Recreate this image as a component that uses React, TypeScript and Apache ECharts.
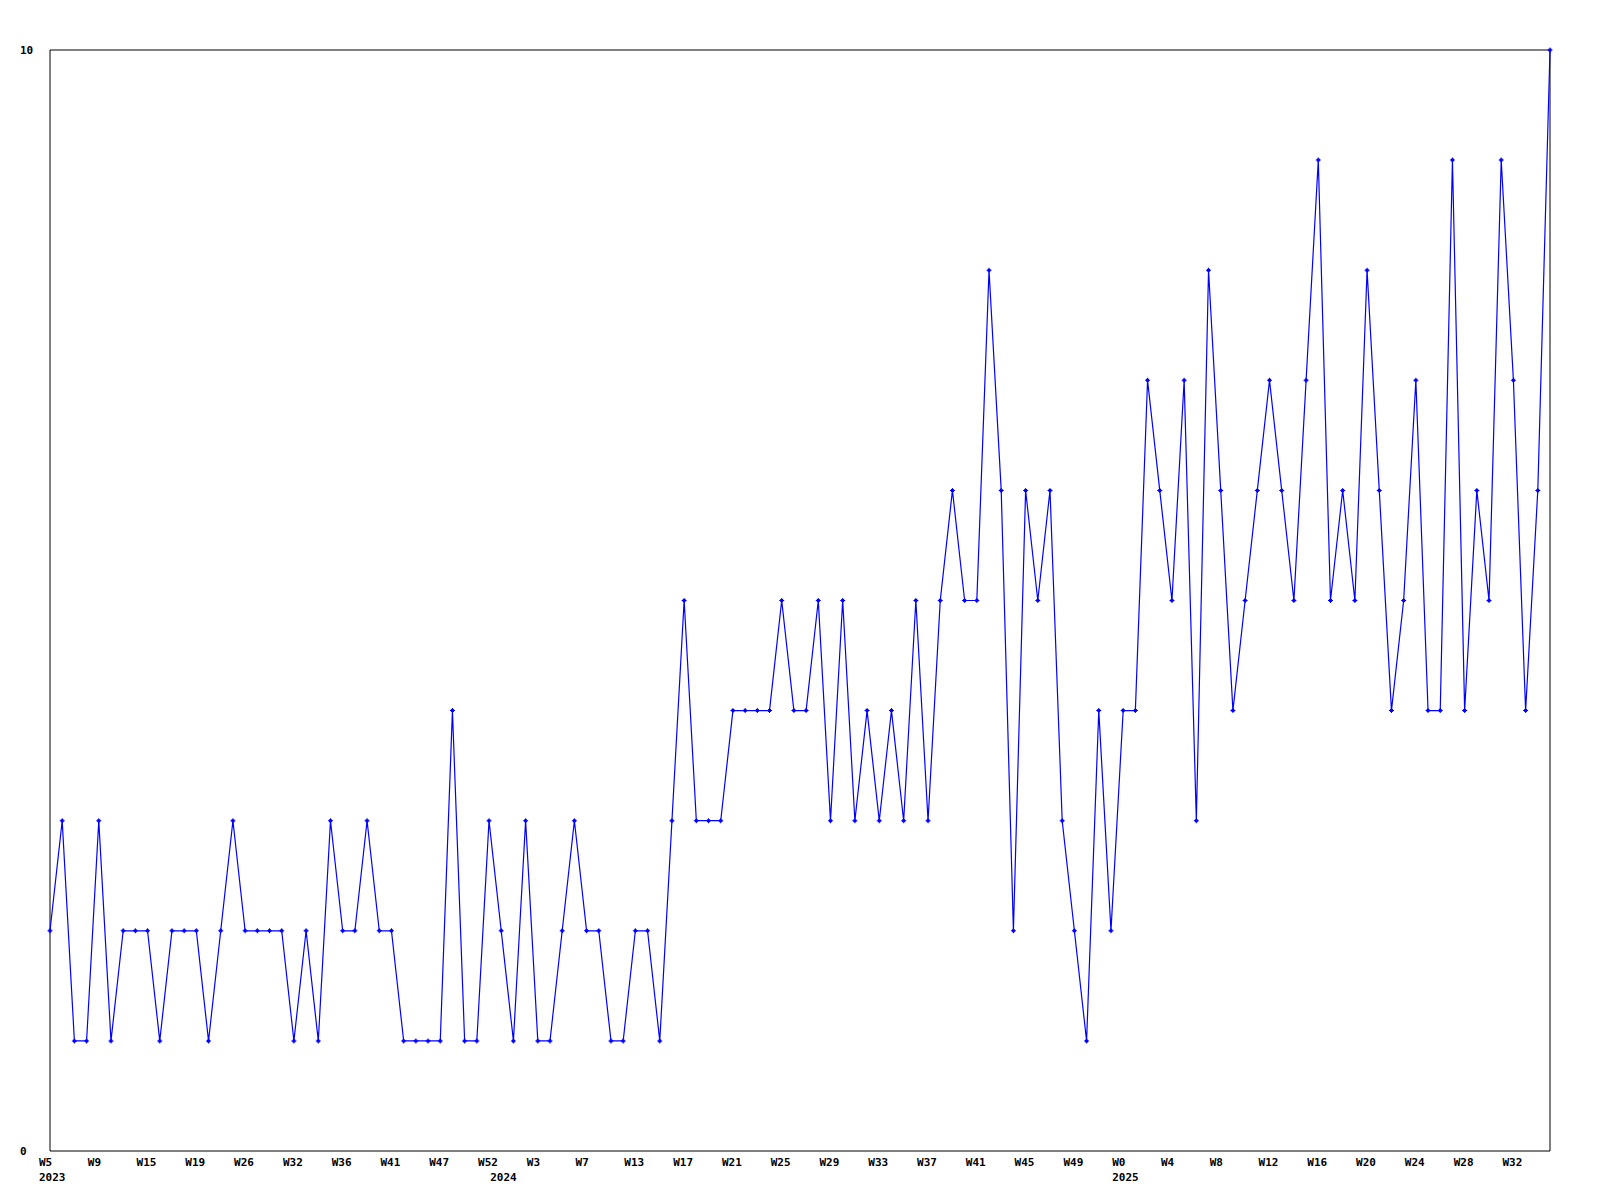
import React, { useEffect, useRef } from 'react';
import * as echarts from 'echarts';

const weeks: string[] = [
  'W5', 'W6', 'W7', 'W8', 'W9', 'W10', 'W12', 'W14', 'W15', 'W16', 'W17', 'W18',
  'W19', 'W21', 'W23', 'W25', 'W26', 'W28', 'W30', 'W31', 'W32', 'W33', 'W34', 'W35',
  'W36', 'W37', 'W39', 'W40', 'W41', 'W43', 'W44', 'W46', 'W47', 'W48', 'W50', 'W51',
  'W52',
  'W0', 'W1', 'W2', 'W3', 'W4', 'W5', 'W6', 'W7', 'W8', 'W10', 'W11', 'W13', 'W14',
  'W15', 'W16', 'W17', 'W18', 'W19', 'W20', 'W21', 'W22', 'W23', 'W24', 'W25', 'W26',
  'W27', 'W28', 'W29', 'W30', 'W31', 'W32', 'W33', 'W34', 'W35', 'W36', 'W37', 'W38',
  'W39', 'W40', 'W41', 'W42', 'W43', 'W44', 'W45', 'W46', 'W47', 'W48', 'W49', 'W50',
  'W51', 'W52',
  'W0', 'W1', 'W2', 'W3', 'W4', 'W5', 'W6', 'W7', 'W8', 'W9', 'W10', 'W11', 'W12',
  'W13', 'W14', 'W15', 'W16', 'W17', 'W18', 'W19', 'W20', 'W21', 'W22', 'W23', 'W24',
  'W25', 'W26', 'W27', 'W28', 'W29', 'W30', 'W31', 'W32', 'W33', 'W34', 'W35',
];

const values: number[] = [
  2, 3, 1, 1, 3, 1, 2, 2, 2, 1,
  2, 2, 2, 1, 2, 3, 2, 2, 2, 2,
  1, 2, 1, 3, 2, 2, 3, 2, 2, 1,
  1, 1, 1, 4, 1, 1, 3, 2, 1, 3,
  1, 1, 2, 3, 2, 2, 1, 1, 2, 2,
  1, 3, 5, 3, 3, 3, 4, 4, 4, 4,
  5, 4, 4, 5, 3, 5, 3, 4, 3, 4,
  3, 5, 3, 5, 6, 5, 5, 8, 6, 2,
  6, 5, 6, 3, 2, 1, 4, 2, 4, 4,
  7, 6, 5, 7, 3, 8, 6, 4, 5, 6,
  7, 6, 5, 7, 9, 5, 6, 5, 8, 6,
  4, 5, 7, 4, 4, 9, 4, 6, 5, 9,
  7, 4, 6, 10,
];

const yearIndex: number[] = [0, 37, 88];
const yearLabels: string[] = ['2023', '2024', '2025'];

const FONT = 'DejaVu Sans Mono';

export default function App() {
  const ref = useRef<HTMLDivElement>(null);

  useEffect(() => {
    if (!ref.current) return;
    const chart = echarts.init(ref.current, undefined, { renderer: 'svg' });
    const labelStyle = {
      fontFamily: FONT,
      fontWeight: 'bold' as const,
      fontSize: 11,
      color: '#000',
    };
    chart.setOption({
      animation: false,
      backgroundColor: '#fff',
      grid: {
        left: 50,
        right: 50,
        top: 50,
        bottom: 49,
        show: true,
        borderColor: '#000',
        borderWidth: 1,
        backgroundColor: 'transparent',
      },
      xAxis: {
        type: 'category',
        data: weeks,
        boundaryGap: false,
        axisLine: { show: false },
        axisTick: { show: false },
        splitLine: { show: false },
        axisLabel: {
          interval: (i: number) => i % 4 === 0 || yearIndex.includes(i),
          margin: 4,
          formatter: (val: string, i: number) => {
            const y = yearIndex.indexOf(i);
            const top = i % 4 === 0 ? val : ' ';
            return y >= 0 ? `{a|${top}}\n{a|${yearLabels[y]}}` : `{a|${top}}`;
          },
          rich: {
            a: { ...labelStyle, width: 22, align: 'left', lineHeight: 15 },
          },
        },
      },
      yAxis: {
        type: 'value',
        min: 0,
        max: 10,
        interval: 10,
        axisLine: { show: false },
        axisTick: { show: false },
        splitLine: { show: false },
        axisLabel: { ...labelStyle, align: 'left', margin: 30 },
      },
      series: [
        {
          type: 'line',
          data: values,
          symbol: 'path://M2 0H3V1H4V2H5V3H4V4H3V5H2V4H1V3H0V2H1V1H2Z',
          symbolSize: 5,
          showSymbol: true,
          lineStyle: { color: '#0000ff', width: 1.2 },
          itemStyle: { color: '#0000ff' },
        },
      ],
    });
    return () => chart.dispose();
  }, []);

  return (
    <div
      ref={ref}
      style={{ position: 'fixed', left: 0, top: 0, width: 1600, height: 1200, background: '#fff' }}
    />
  );
}
